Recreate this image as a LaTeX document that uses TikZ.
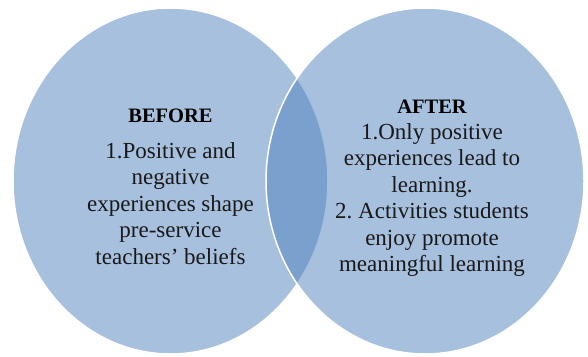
\documentclass[tikz,border=0pt]{standalone}
\usepackage{fontspec}
\setmainfont{Liberation Serif}
\definecolor{vennblue}{HTML}{4F81BD}
\tikzset{
	venn/.style={fill=vennblue, fill opacity=0.5, draw=white, line width=1.5pt},
	title/.style={font=\fontsize{20.5}{24}\selectfont\bfseries, anchor=base, inner sep=0pt},
	body/.style={font=\fontsize{23}{26.5}\selectfont, align=center, anchor=base, inner sep=0pt, text=black!90}
}
\begin{document}
	\begin{tikzpicture}[x=1pt, y=-1pt]
		\useasboundingbox (0, 0) rectangle (588, 356);
		\filldraw[venn] (170.5, 181) ellipse [x radius=157.5, y radius=173];
		\filldraw[venn] (425, 181) ellipse [x radius=159, y radius=173];
		\node[title] (beforetitle) at (170.5, 122) {BEFORE};
		% base anchor sits on the last line
		\node[body] (beforetext) at (170.5, 264) {1.Positive and\\negative\\experiences shape\\pre-service\\teachers’ beliefs};
		\node[title] (aftertitle) at (432, 113) {AFTER};
		\node[body] (aftertext) at (432, 271.5) {1.Only positive\\experiences lead to\\learning.\\2.\ Activities students\\enjoy promote\\meaningful learning};
	\end{tikzpicture}
\end{document}
